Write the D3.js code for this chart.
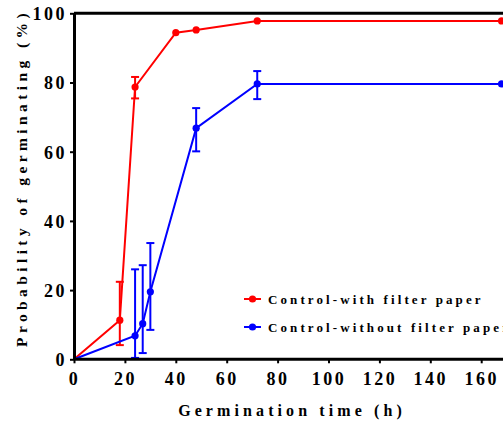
<!DOCTYPE html>
<html><head><meta charset="utf-8">
<script src="https://cdn.jsdelivr.net/npm/d3@7"></script>
<style>body{margin:0;background:#fff;overflow:hidden}svg{display:block}</style>
</head><body>
<script>
const seriesNames = ["Control-with filter paper", "Control-without filter paper"];
const withX = [0, 18, 24, 40, 48, 72, 168];
const withY = [0, 11.3, 78.7, 94.4, 95.2, 97.8, 97.8];
const withLo = [0, 4.1, 75.4, 94.4, 95.2, 97.8, 97.8];
const withHi = [0, 22.4, 81.6, 94.4, 95.2, 97.8, 97.8];
const withoutX = [0, 24, 27, 30, 48, 72, 168];
const withoutY = [0, 6.8, 10.3, 19.5, 66.8, 79.6, 79.6];
const withoutLo = [0, 0.4, 1.8, 8.5, 60.1, 75.2, 79.6];
const withoutHi = [0, 26.0, 27.2, 33.6, 72.6, 83.3, 79.6];
const xTicks = [0, 20, 40, 60, 80, 100, 120, 140, 160];
const yTicks = [0, 20, 40, 60, 80, 100];
const colors = ["#ff0000", "#0000ff"];

const W = 503, H = 424;
const svg = d3.select("body").append("svg").attr("width", W).attr("height", H);
const x = d3.scaleLinear().domain([0, 180]).range([74, 74 + 180 * 2.545]);
const y = d3.scaleLinear().domain([0, 100]).range([359.3, 13.3]);
const font = "'Liberation Serif','Times New Roman',serif";

const series = [
  {name: seriesNames[0], data: withX.map((h, i) => ({x: h, y: withY[i], lo: withLo[i], hi: withHi[i]})), color: colors[0]},
  {name: seriesNames[1], data: withoutX.map((h, i) => ({x: h, y: withoutY[i], lo: withoutLo[i], hi: withoutHi[i]})), color: colors[1]}
];

// top frame line
svg.append("line").attr("x1", x(0)).attr("x2", W + 5).attr("y1", y(100)).attr("y2", y(100))
  .attr("stroke", "#000").attr("stroke-width", 3);

const line = d3.line().x(d => x(d.x)).y(d => y(d.y));
series.forEach(s => {
  const g = svg.append("g");
  g.append("path").datum(s.data).attr("d", line).attr("fill", "none")
    .attr("stroke", s.color).attr("stroke-width", 2);
  s.data.filter(d => d.hi - d.lo > 1).forEach(d => {
    const cx = x(d.x);
    g.append("line").attr("x1", cx).attr("x2", cx).attr("y1", y(d.lo)).attr("y2", y(d.hi))
      .attr("stroke", s.color).attr("stroke-width", 2);
    [d.lo, d.hi].forEach(v => {
      g.append("line").attr("x1", cx - 4).attr("x2", cx + 4).attr("y1", y(v)).attr("y2", y(v))
        .attr("stroke", s.color).attr("stroke-width", 2);
    });
  });
  g.selectAll("circle").data(s.data.filter(d => d.x > 0)).join("circle")
    .attr("cx", d => x(d.x)).attr("cy", d => y(d.y)).attr("r", 3.6).attr("fill", s.color);
});

// axes
const xAxis = svg.append("g").attr("transform", `translate(0,${y(0)})`)
  .call(d3.axisBottom(x).tickValues(xTicks).tickSize(4).tickPadding(6).tickSizeOuter(0));
const yAxis = svg.append("g").attr("transform", `translate(${x(0)},0)`)
  .call(d3.axisLeft(y).tickValues(yTicks).tickSize(4).tickPadding(3).tickSizeOuter(0));
[xAxis, yAxis].forEach(a => {
  a.select(".domain").attr("stroke", "#000").attr("stroke-width", 3);
  a.selectAll(".tick line").attr("stroke", "#000").attr("stroke-width", 2);
  a.selectAll("text").attr("font-family", font).attr("font-weight", "bold")
    .attr("font-size", 18).attr("fill", "#000").attr("letter-spacing", "2.5px");
});
xAxis.select(".domain").attr("d", `M${x(0)},0H${W + 5}`);
xAxis.selectAll("text").attr("dy", "0.85em");
yAxis.selectAll("text").attr("dy", "0.35em");

// axis titles
svg.append("text").attr("x", 292).attr("y", 416).attr("text-anchor", "middle")
  .attr("font-family", font).attr("font-weight", "bold").attr("font-size", 16)
  .attr("letter-spacing", "4.1px").attr("fill", "#000").text("Germination time (h)");
svg.append("text").attr("transform", `translate(27,178) rotate(-90)`).attr("text-anchor", "middle")
  .attr("font-family", font).attr("font-weight", "bold").attr("font-size", 15.5)
  .attr("letter-spacing", "4.4px").attr("fill", "#000").text("Probability of germinating (%)");

// legend
series.forEach((s, i) => {
  const ly = 299 + i * 28;
  svg.append("line").attr("x1", 244).attr("x2", 261).attr("y1", ly).attr("y2", ly)
    .attr("stroke", s.color).attr("stroke-width", 2);
  svg.append("circle").attr("cx", 252.5).attr("cy", ly).attr("r", 3.6).attr("fill", s.color);
  svg.append("text").attr("x", 268).attr("y", ly).attr("dy", "0.35em")
    .attr("font-family", font).attr("font-weight", "bold").attr("font-size", 13)
    .attr("letter-spacing", "3.1px").attr("fill", "#000").text(s.name);
});
</script>
</body></html>
